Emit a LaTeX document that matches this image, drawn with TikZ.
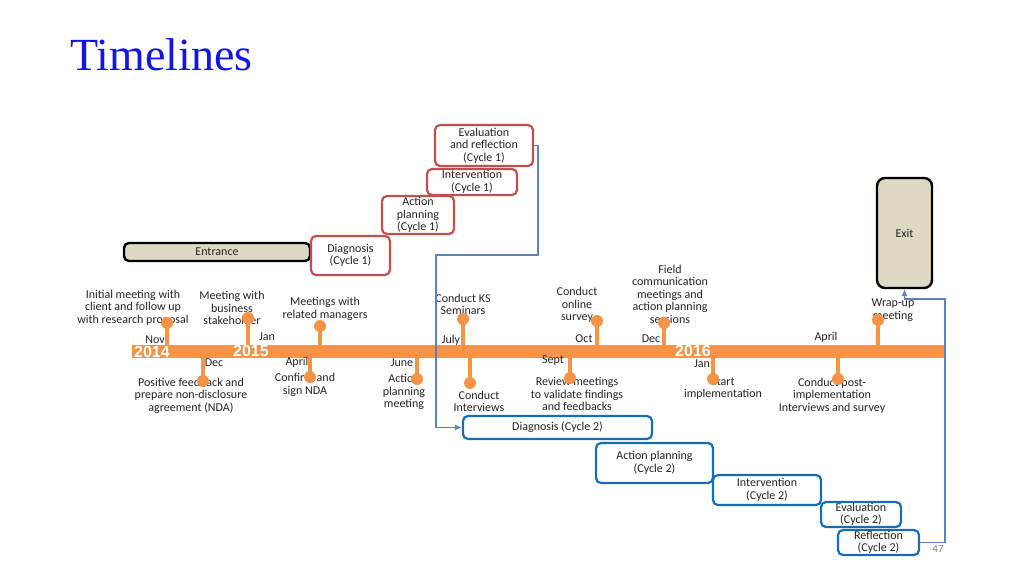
\documentclass[tikz,border=0pt]{standalone}
\usepackage{fontspec}
\setmainfont{Carlito}
\newfontfamily\titlefont{Liberation Serif}
\newfontfamily\yearfont{Liberation Sans}
\usetikzlibrary{arrows.meta}
\definecolor{tlorange}{RGB}{245,148,72}
\definecolor{cycred}{RGB}{192,80,77}
\definecolor{cycblue}{RGB}{22,108,185}
\definecolor{connc}{RGB}{92,130,185}
\definecolor{tanfill}{RGB}{221,217,195}
\definecolor{titleblue}{RGB}{20,20,230}
\definecolor{txt}{RGB}{35,35,35}
\begin{document}
\begin{tikzpicture}[x=1pt,y=-1pt,
  lbl/.style={align=center,font=\fontsize{12}{12.5}\selectfont,text=txt,inner sep=0},
  cyc/.style={line width=2.2pt,rounded corners=5pt,fill=white,align=center,inner sep=0,
              font=\fontsize{12}{12.5}\selectfont,text=txt},
  redbox/.style={cyc,draw=cycred},
  bluebox/.style={cyc,draw=cycblue},
  tanbox/.style={cyc,draw=black,fill=tanfill,line width=2.4pt},
  stem/.style={draw=tlorange,line width=4pt},
  dot/.style={fill=tlorange},
  year/.style={font=\yearfont\bfseries\fontsize{16}{16}\selectfont,text=white,inner sep=0},
  connline/.style={draw=connc,line width=1.1pt,-{Latex[length=7pt,width=6pt]}}]
\useasboundingbox (0,0) rectangle (1024,575);

% title
\node[anchor=base west,font=\titlefont\fontsize{46}{50}\selectfont,text=titleblue,inner sep=0] (title) at (70,71) {Timelines};

% timeline bar
\fill[tlorange] (132,345) rectangle (945,358);

% stems
\foreach \x/\y in {167/323,248/318,320/326,463/319,597/321,664/323,878/320,
                   203/381,310/377,417/379,470/383,570/378,713/379,838/379}
  \draw[stem] (\x,351) -- (\x,\y);

% year labels
\node[year] (y14) at (152,352) {2014};
\node[year] (y15) at (251,351) {2015};
\node[year] (y16) at (693,351) {2016};

% month labels
\node[lbl] (m1) at (155,339.5) {Nov};
\node[lbl] (m2) at (267,337) {Jan};
\node[lbl] (m3) at (214,363) {Dec};
\node[lbl] (m4) at (297,362) {April};
\node[lbl] (m5) at (402,363) {June};
\node[lbl] (m6) at (451,340) {July};
\node[lbl] (m7) at (584,339) {Oct};
\node[lbl] (m8) at (553,361) {Sept};
\node[lbl] (m9) at (651,339) {Dec};
\node[lbl] (m10) at (702,364) {Jan};
\node[lbl] (m11) at (826,337) {April};

% event labels
\node[lbl] (e1) at (133,307.5) {Initial meeting with\\client and follow up\\with research proposal};
\node[lbl] (e2) at (232,308) {Meeting with\\business\\stakeholder};
\node[lbl] (e3) at (325,309) {Meetings with\\related managers};
\node[lbl] (e4) at (463,304.5) {Conduct KS\\Seminars};
\node[lbl] (e5) at (577,305) {Conduct\\online\\survey};
\node[lbl] (e6) at (670,294) {Field\\communication\\meetings and\\action planning\\sessions};
\node[lbl] (e7) at (893,310) {Wrap-up\\meeting};
\node[lbl] (e8) at (191,395.5) {Positive feedback and\\prepare non-disclosure\\agreement (NDA)};
\node[lbl] (e9) at (305,385) {Confirm and\\sign NDA};
\node[lbl] (e10) at (404,392) {Action\\planning\\meeting};
\node[lbl] (e11) at (479,401.5) {Conduct\\Interviews};
\node[lbl] (e12) at (577,394) {Review meetings\\to validate findings\\and feedbacks};
\node[lbl] (e13) at (723,388.5) {Start\\implementation};
\node[lbl] (e14) at (832,395.5) {Conduct post-\\implementation\\Interviews and survey};

% dots
\foreach \x/\y in {167/323,248/318,320/326,463/319,597/321,664/323,878/320,
                   203/381,310/377,417/379,470/383,570/378,713/379,838/379}
  \fill[dot] (\x,\y) circle (6pt);

% entrance / exit
\node[tanbox,minimum width=186pt,minimum height=18pt] (entr) at (217,252) {Entrance};
\node[tanbox,minimum width=55pt,minimum height=110pt,rounded corners=8pt] (exit) at (904.5,233) {Exit};

% cycle 1
\node[redbox,minimum width=79pt,minimum height=39pt] (diag1) at (350.5,255.5) {Diagnosis\\(Cycle 1)};
\node[redbox,minimum width=72pt,minimum height=38pt] (act1) at (418,215) {Action\\planning\\(Cycle 1)};
\node[redbox,minimum width=90pt,minimum height=26pt] (int1) at (472,182) {Intervention\\(Cycle 1)};
\node[redbox,minimum width=98pt,minimum height=41pt] (eval1) at (484,145.5) {Evaluation\\and reflection\\(Cycle 1)};

% cycle 2
\node[bluebox,minimum width=189pt,minimum height=23pt] (diag2) at (557.5,427.5) {Diagnosis (Cycle 2)};
\node[bluebox,minimum width=117pt,minimum height=40pt] (act2) at (654.5,463) {Action planning\\(Cycle 2)};
\node[bluebox,minimum width=108pt,minimum height=30pt] (int2) at (767,490) {Intervention\\(Cycle 2)};
\node[bluebox,minimum width=80pt,minimum height=25pt] (eval2) at (861,514.5) {Evaluation\\(Cycle 2)};
\node[bluebox,minimum width=81pt,minimum height=25pt] (refl2) at (878.5,542.5) {Reflection\\(Cycle 2)};

% connectors
\coordinate (c1) at (538,145.5);
\coordinate (c2) at (538,255);
\coordinate (c3) at (436,255);
\coordinate (c4) at (436,427.5);
\draw[connline] (eval1.east) -- (c1) -- (c2) -- (c3) -- (c4) -- (diag2.west);
\coordinate (d1) at (945,542.5);
\coordinate (d2) at (945,299);
\coordinate (d3) at (904.5,299);
\draw[connline] (refl2.east) -- (d1) -- (d2) -- (d3) -- (exit.south);

% page number
\node[font=\fontsize{11}{12}\selectfont,text=gray,inner sep=0] (pg) at (938,549) {47};
\end{tikzpicture}
\end{document}
